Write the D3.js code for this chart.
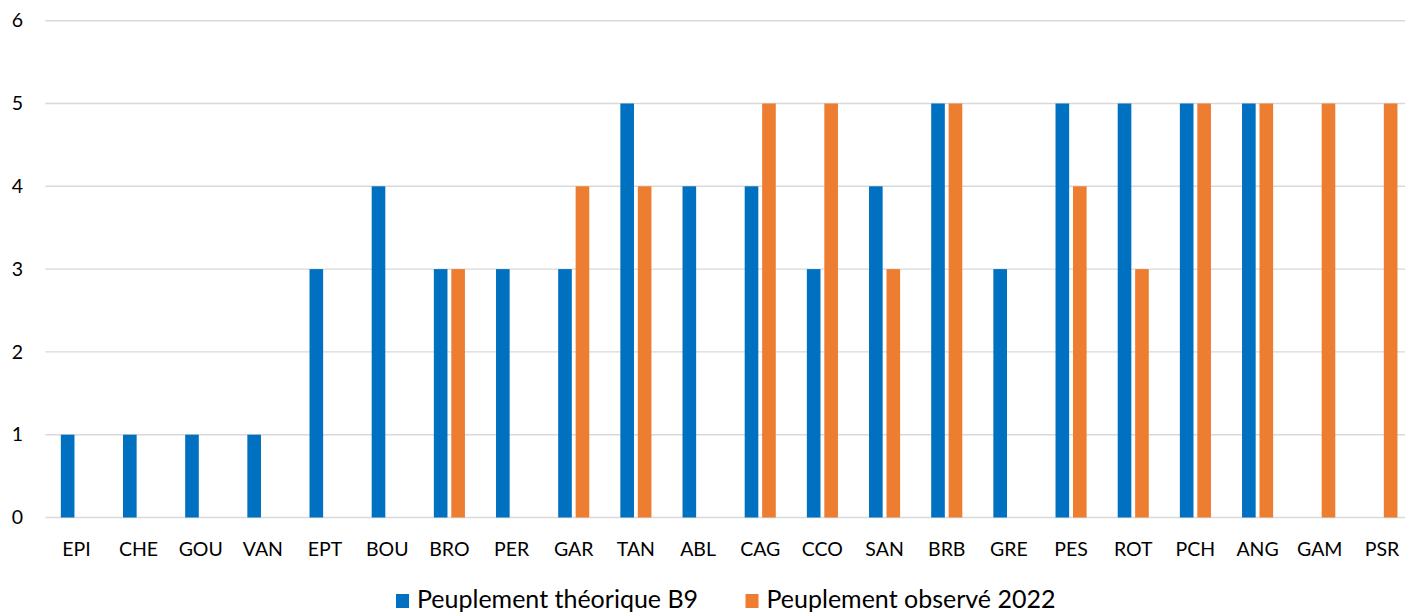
<!DOCTYPE html>
<html>
<head>
<meta charset="utf-8">
<script src="https://cdn.jsdelivr.net/npm/d3@7"></script>
<style>
  html, body { margin: 0; padding: 0; background: #fff; }
  svg { display: block; font-family: "Lato", "Noto Sans", sans-serif; }
</style>
</head>
<body>
<svg id="chart" width="1405" height="614"></svg>
<script>
// Station codes along the x axis
const categories = ["EPI","CHE","GOU","VAN","EPT","BOU","BRO","PER","GAR","TAN","ABL",
                    "CAG","CCO","SAN","BRB","GRE","PES","ROT","PCH","ANG","GAM","PSR"];
// Theoretical population (B9 reference)
const theoretical = [1,1,1,1,3,4,3,3,3,5,4,4,3,4,5,3,5,5,5,5,null,null];
// Population observed in 2022
const observed2022 = [null,null,null,null,null,null,3,null,4,4,null,5,5,3,5,null,4,3,5,5,5,5];
const seriesNames = ["Peuplement théorique B9", "Peuplement observé 2022"];
const seriesColors = ["#0070C0", "#ED7D31"];
const yTicks = [0,1,2,3,4,5,6];

const svg = d3.select("#chart");
const W = 1405;
const plot = { left: 45.3, right: 1413, top: 20.7, bottom: 517.5 };

const x = d3.scaleBand().domain(categories)
  .range([plot.left, plot.right]).paddingInner(0.5).paddingOuter(0.25);
const xs = d3.scaleBand().domain([0, 1])
  .range([0, x.bandwidth()]).paddingInner(0.22);
const y = d3.scaleLinear().domain([0, 6]).range([plot.bottom, plot.top]);

// Horizontal gridlines
svg.append("g").selectAll("line").data(yTicks).join("line")
  .attr("x1", plot.left).attr("x2", W)
  .attr("y1", d => y(d)).attr("y2", d => y(d))
  .attr("stroke", "#D9D9D9").attr("stroke-width", 1.4);

// Y axis labels
const yAxis = d3.axisLeft(y).tickValues(yTicks).tickFormat(d3.format("d"))
  .tickSize(0).tickPadding(0);
const gy = svg.append("g").attr("transform", "translate(23,0)").call(yAxis);
gy.select(".domain").remove();
gy.selectAll("text").attr("font-family", "Lato, sans-serif")
  .attr("font-size", 19.5).attr("fill", "#000");

// X axis labels
const xAxis = d3.axisBottom(x).tickSize(0).tickPadding(0);
const gx = svg.append("g").attr("transform", `translate(0,${plot.bottom})`).call(xAxis);
gx.select(".domain").remove();
gx.selectAll("text").attr("font-family", "Lato, sans-serif")
  .attr("font-size", 19.5).attr("fill", "#000").attr("dy", null).attr("y", 38.5);

// Bars
const rows = categories.map((c, i) => ({ cat: c, vals: [theoretical[i], observed2022[i]] }));
const groups = svg.append("g").selectAll("g").data(rows).join("g")
  .attr("transform", d => `translate(${x(d.cat)},0)`);
groups.selectAll("rect")
  .data(d => d.vals.map((v, s) => ({ v, s })).filter(e => e.v != null))
  .join("rect")
  .attr("x", d => xs(d.s))
  .attr("width", xs.bandwidth())
  .attr("y", d => y(d.v))
  .attr("height", d => y(0) - y(d.v))
  .attr("fill", d => seriesColors[d.s]);

// Legend, kept low at the foot of the chart
const legendX = [396, 745.5];
const leg = svg.append("g").selectAll("g").data(seriesNames).join("g")
  .attr("transform", (d, i) => `translate(${legendX[i]},0)`);
leg.append("rect").attr("x", 0).attr("y", 594).attr("width", 13).attr("height", 14)
  .attr("fill", (d, i) => seriesColors[i]);
leg.append("text").attr("x", 21).attr("y", 607.5)
  .attr("font-family", "Lato, sans-serif").attr("font-size", 25).attr("fill", "#000")
  .text(d => d);
</script>
</body>
</html>
